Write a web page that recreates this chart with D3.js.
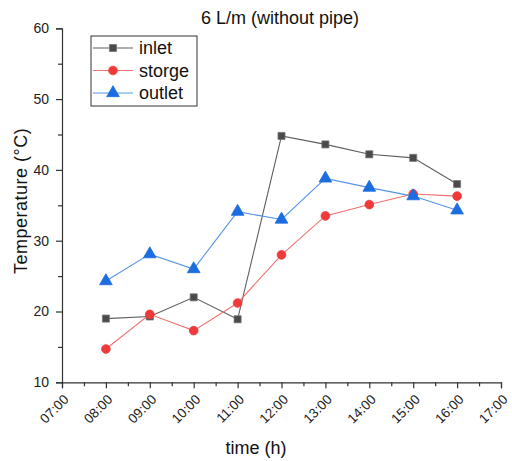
<!DOCTYPE html>
<html><head><meta charset="utf-8">
<script src="https://cdn.jsdelivr.net/npm/d3@7"></script>
<style>body{margin:0;background:#fff}svg{display:block;font-family:Arial,"Liberation Sans",sans-serif}</style>
</head><body><svg id="c" width="512" height="461"></svg>
<script>
const times = ["08:00","09:00","10:00","11:00","12:00","13:00","14:00","15:00","16:00"];
const tickLabels = ["07:00","08:00","09:00","10:00","11:00","12:00","13:00","14:00","15:00","16:00","17:00"];
const inlet  = [19.0, 19.3, 22.0, 18.9, 44.8, 43.6, 42.2, 41.7, 38.0];
const storge = [14.7, 19.6, 17.3, 21.2, 28.0, 33.5, 35.1, 36.6, 36.3];
const outlet = [24.3, 28.1, 26.0, 34.1, 33.0, 38.8, 37.5, 36.3, 34.3];
const yTicks = [10, 20, 30, 40, 50, 60];

const svg = d3.select("#c");
const m = {l:62, r:501, t:28.3, b:382.3};
const hour = s => +s.split(":")[0];
const x = d3.scaleLinear().domain([7,17]).range([m.l, m.r]);
const y = d3.scaleLinear().domain([10,60]).range([m.b, m.t]);

// axes
const xAxis = svg.append("g").attr("transform",`translate(0,${m.b})`)
  .call(d3.axisBottom(x).tickValues(tickLabels.map(hour)).tickFormat((d,i)=>tickLabels[i]).tickSizeOuter(0).tickSize(6));
xAxis.selectAll("text").attr("text-anchor","end").attr("dy",null).attr("y",0)
  .attr("transform","translate(7,18) rotate(-45)").style("font-size","13.5px").attr("fill","#222");
const xMinor = svg.append("g").attr("transform",`translate(0,${m.b})`)
  .call(d3.axisBottom(x).tickValues(d3.range(7.5,17,1)).tickFormat("").tickSizeOuter(0).tickSize(4));
xMinor.select(".domain").remove();

const yAxis = svg.append("g").attr("transform",`translate(${m.l},0)`)
  .call(d3.axisLeft(y).tickValues(yTicks).tickSizeOuter(0).tickSize(6).tickPadding(7));
yAxis.selectAll("text").style("font-size","14px").attr("fill","#222");
const yMinor = svg.append("g").attr("transform",`translate(${m.l},0)`)
  .call(d3.axisLeft(y).tickValues(d3.range(15,60,10)).tickFormat("").tickSizeOuter(0).tickSize(4));
yMinor.select(".domain").remove();
svg.selectAll(".domain, .tick line").attr("stroke","#333").attr("stroke-width",1.2);

// titles
svg.append("text").attr("x",280).attr("y",24).attr("text-anchor","middle")
  .style("font-size","18px").attr("fill","#111").text("6 L/m (without pipe)");
svg.append("text").attr("x",256).attr("y",454).attr("text-anchor","middle")
  .style("font-size","18px").attr("fill","#111").text("time (h)");
svg.append("text").attr("transform",`translate(27,201) rotate(-90)`).attr("text-anchor","middle")
  .style("font-size","18px").style("letter-spacing","0.5px").attr("fill","#111").text("Temperature (°C)");

const series = [
  {name:"inlet", vals:inlet, line:"#5e5e5e", fill:"#4a4a4a", stroke:"#777", sym:d3.symbolSquare, size:50},
  {name:"storge", vals:storge, line:"#f07070", fill:"#ef3a3a", stroke:"#ef3a3a", sym:d3.symbolCircle, size:60},
  {name:"outlet", vals:outlet, line:"#5595e8", fill:"#1c6ddf", stroke:"#1c6ddf", sym:d3.symbolTriangle, size:70}
];
const line = d3.line().x(d=>x(hour(d.t))).y(d=>y(d.v));
series.forEach(s=>{
  const pts = times.map((t,i)=>({t, v:s.vals[i]}));
  svg.append("path").datum(pts).attr("d",line).attr("fill","none").attr("stroke",s.line).attr("stroke-width",1.1);
});
series.forEach(s=>{
  const pts = times.map((t,i)=>({t, v:s.vals[i]}));
  svg.append("g").selectAll("path").data(pts).join("path")
    .attr("transform",d=>`translate(${x(hour(d.t))},${y(d.v)})`)
    .attr("d",d3.symbol(s.sym,s.size)).attr("fill",s.fill).attr("stroke",s.stroke).attr("stroke-width",0.8);
});

// legend
const lg = svg.append("g");
lg.append("rect").attr("x",91).attr("y",36).attr("width",106).attr("height",70)
  .attr("fill","#fff").attr("stroke","#333").attr("stroke-width",1);
series.forEach((s,i)=>{
  const yy = 48 + i*22.5;
  lg.append("line").attr("x1",93).attr("x2",133).attr("y1",yy).attr("y2",yy).attr("stroke",s.line).attr("stroke-width",1.1);
  lg.append("path").attr("transform",`translate(113,${yy})`).attr("d",d3.symbol(s.sym,s.size)).attr("fill",s.fill).attr("stroke",s.stroke).attr("stroke-width",0.8);
  lg.append("text").attr("x",139).attr("y",yy+6).style("font-size","18px").attr("fill","#111").text(s.name);
});
</script></body></html>
